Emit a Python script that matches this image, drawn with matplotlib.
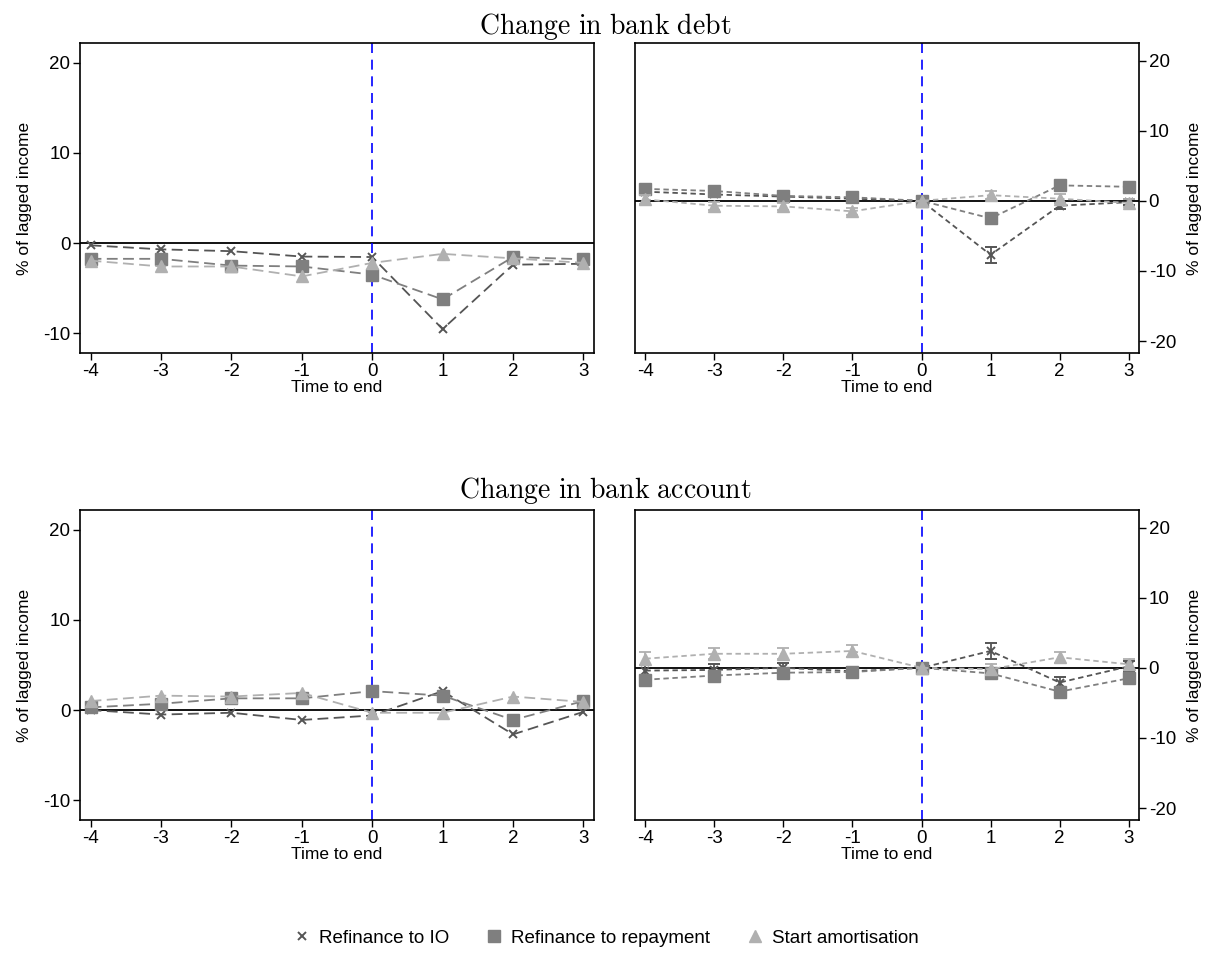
import matplotlib
matplotlib.use("Agg")
import matplotlib.pyplot as plt
from matplotlib.lines import Line2D

################################################################
##### data

TIME = [-4, -3, -2, -1, 0, 1, 2, 3]
SERIES = ["Refinance to IO", "Refinance to repayment", "Start amortisation"]

# change in bank debt, left panel (no error bars)
debt_left_io = [-0.25, -0.7, -0.9, -1.5, -1.55, -9.55, -2.4, -2.3]
debt_left_repay = [-1.75, -1.75, -2.5, -2.6, -3.5, -6.25, -1.55, -1.8]
debt_left_amort = [-1.95, -2.6, -2.6, -3.7, -2.2, -1.2, -1.7, -2.2]

# change in bank debt, right panel (with error bars)
debt_right_io = [1.3, 0.9, 0.6, 0.3, 0.0, -7.7, -0.7, -0.2]
debt_right_repay = [1.7, 1.4, 0.7, 0.5, 0.0, -2.5, 2.2, 2.0]
debt_right_amort = [0.2, -0.7, -0.8, -1.5, 0.0, 0.8, 0.3, -0.3]
debt_right_io_err = [0.4, 0.4, 0.3, 0.3, 0.0, 1.1, 0.4, 0.4]
debt_right_repay_err = [0.5, 0.4, 0.3, 0.3, 0.0, 0.5, 0.4, 0.4]
debt_right_amort_err = [0.65, 0.6, 0.5, 0.5, 0.0, 0.6, 0.6, 0.6]

# change in bank account, left panel
acct_left_io = [0.0, -0.5, -0.3, -1.1, -0.6, 2.1, -2.7, -0.2]
acct_left_repay = [0.3, 0.7, 1.3, 1.3, 2.1, 1.6, -1.1, 1.0]
acct_left_amort = [1.0, 1.6, 1.5, 1.9, -0.3, -0.3, 1.5, 0.9]

# change in bank account, right panel
acct_right_io = [-0.4, -0.3, 0.0, -0.5, 0.0, 2.4, -2.1, 0.2]
acct_right_repay = [-1.7, -1.1, -0.7, -0.6, 0.0, -0.8, -3.4, -1.5]
acct_right_amort = [1.3, 2.0, 2.0, 2.4, 0.0, -0.2, 1.5, 0.5]
acct_right_io_err = [0.8, 0.8, 0.7, 0.6, 0.0, 1.1, 0.8, 0.8]
acct_right_repay_err = [0.6, 0.5, 0.5, 0.5, 0.0, 0.5, 0.6, 0.6]
acct_right_amort_err = [0.9, 0.8, 0.8, 0.8, 0.0, 0.8, 0.8, 0.8]

LEFT_TICKS = [-10, 0, 10, 20]
RIGHT_TICKS = [-20, -10, 0, 10, 20]

################################################################
##### styling

plt.rcParams["font.family"] = ["Liberation Sans", "DejaVu Sans"]
plt.rcParams["mathtext.fontset"] = "cm"
plt.rcParams["axes.unicode_minus"] = False  # stata prints plain hyphens

STYLES = [
    dict(color="#555555", marker="x", markersize=6, markeredgewidth=1.4),
    dict(color="#7f7f7f", marker="s", markersize=8),
    dict(color="#b0b0b0", marker="^", markersize=9),
]

TICK_FS = 13.5
LABEL_FS = 12.5


def style_axis(ax, right=False):
    ax.set_xlim(-4.15, 3.15)
    if right:
        ax.set_ylim(-21.7, 22.5)
        ax.set_yticks(RIGHT_TICKS)
        ax.yaxis.tick_right()
        ax.yaxis.set_label_position("right")
    else:
        ax.set_ylim(-12.2, 22.2)
        ax.set_yticks(LEFT_TICKS)
    ax.set_xticks(TIME)
    ax.set_xticklabels([str(t) for t in TIME])
    ax.tick_params(axis="both", labelsize=TICK_FS, length=5, width=1, direction="out", pad=2)
    ax.set_xlabel("Time to end", fontsize=LABEL_FS, labelpad=0)
    ax.set_ylabel("% of lagged income", fontsize=LABEL_FS, labelpad=8)
    for sp in ax.spines.values():
        sp.set_linewidth(1.2)
    ax.axhline(0, color="black", lw=1.3, zorder=1)
    ax.axvline(0, color="blue", lw=1.2, ls=(0, (6, 4)), zorder=1)


def plot_panel(ax, values, errors=None):
    for i, (vals, style) in enumerate(zip(values, STYLES)):
        if errors is None:
            ax.plot(TIME, vals, ls=(0, (6, 3)), lw=1.3, zorder=3 + i, **style)
        else:
            ax.errorbar(TIME, vals, yerr=errors[i], ls=(0, (3, 2)), lw=1.3,
                        elinewidth=1.3, capsize=4, capthick=1.3,
                        zorder=3 + i, **style)
    style_axis(ax, right=errors is not None)


def main():
    fig = plt.figure(figsize=(12.1, 9.67), dpi=100)

    w_left = 514 / 1210
    w_right = 504 / 1210
    h = 310 / 967
    ax_tl = fig.add_axes([80 / 1210, 1 - 353 / 967, w_left, h])
    ax_tr = fig.add_axes([635 / 1210, 1 - 353 / 967, w_right, h])
    ax_bl = fig.add_axes([80 / 1210, 1 - 820 / 967, w_left, h])
    ax_br = fig.add_axes([635 / 1210, 1 - 820 / 967, w_right, h])

    plot_panel(ax_tl, [debt_left_io, debt_left_repay, debt_left_amort])
    plot_panel(ax_tr, [debt_right_io, debt_right_repay, debt_right_amort],
               [debt_right_io_err, debt_right_repay_err, debt_right_amort_err])
    plot_panel(ax_bl, [acct_left_io, acct_left_repay, acct_left_amort])
    plot_panel(ax_br, [acct_right_io, acct_right_repay, acct_right_amort],
               [acct_right_io_err, acct_right_repay_err, acct_right_amort_err])

    fig.text(0.5, 1 - 27 / 967, r"$\mathrm{Change\ in\ bank\ debt}$",
             ha="center", va="center", fontsize=20)
    fig.text(0.5, 1 - 490 / 967, r"$\mathrm{Change\ in\ bank\ account}$",
             ha="center", va="center", fontsize=20)

    handles = [Line2D([0], [0], ls="none", **s) for s in STYLES]
    fig.legend(handles, SERIES, loc="center", bbox_to_anchor=(0.5, 1 - 938 / 967),
               ncol=3, frameon=False, fontsize=TICK_FS, handletextpad=0.3,
               columnspacing=1.8, handlelength=1.2)

    fig.savefig("out.png", dpi=100)
    plt.close(fig)


if __name__ == "__main__":
    main()
